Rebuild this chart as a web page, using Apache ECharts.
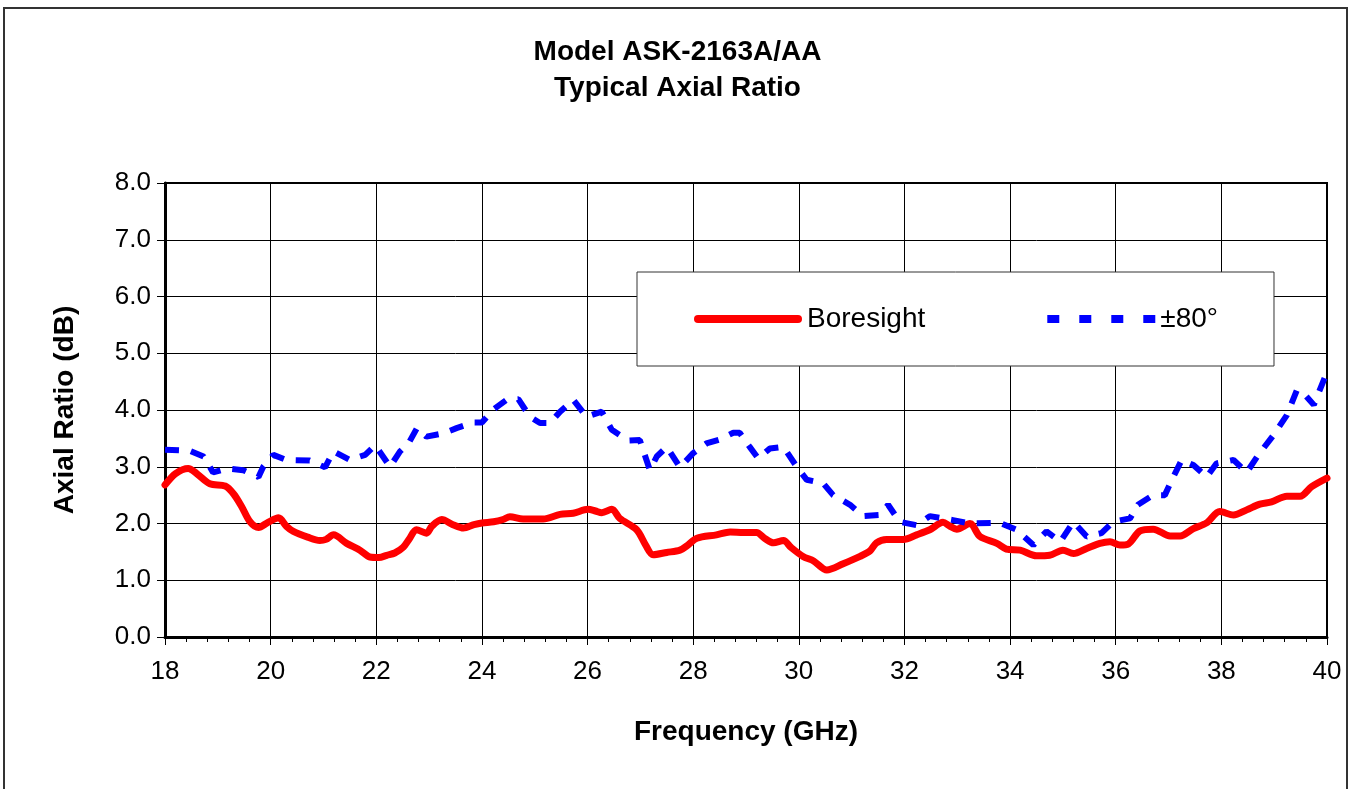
<!DOCTYPE html>
<html>
<head>
<meta charset="utf-8">
<script src="https://cdn.jsdelivr.net/npm/echarts@6/dist/echarts.min.js"></script>
<style>
html,body{margin:0;padding:0;background:#fff;}
#chart{width:1355px;height:789px;}
</style>
</head>
<body>
<div id="chart"></div>
<script>
// ---- Data ----
const titleLines = ["Model ASK-2163A/AA", "Typical Axial Ratio"];
const xAxisTitle = "Frequency (GHz)";
const yAxisTitle = "Axial Ratio (dB)";
const seriesNames = ["Boresight", "±80°"];

const boresightFreq = [18.0, 18.2, 18.44, 18.6, 18.85, 19.14, 19.3, 19.45, 19.61, 19.77, 19.95, 20.15, 20.3, 20.43, 20.7, 20.93, 21.05, 21.19, 21.44, 21.69, 21.88, 22.05, 22.2, 22.35, 22.51, 22.62, 22.76, 22.95, 23.05, 23.24, 23.45, 23.65, 23.85, 24.0, 24.22, 24.4, 24.53, 24.78, 25.16, 25.48, 25.73, 26.01, 26.15, 26.27, 26.46, 26.61, 26.93, 27.1, 27.24, 27.5, 27.75, 27.9, 28.07, 28.44, 28.7, 28.95, 29.2, 29.35, 29.52, 29.71, 29.85, 30.08, 30.28, 30.53, 30.84, 31.16, 31.35, 31.47, 31.66, 31.98, 32.23, 32.48, 32.73, 32.85, 32.99, 33.24, 33.43, 33.75, 33.93, 34.19, 34.5, 34.75, 35.0, 35.2, 35.45, 35.7, 35.89, 36.08, 36.24, 36.46, 36.71, 37.03, 37.22, 37.47, 37.72, 37.97, 38.23, 38.48, 38.73, 38.95, 39.24, 39.49, 39.71, 40.0];
const boresightAR = [2.68, 2.88, 2.97, 2.88, 2.70, 2.66, 2.52, 2.30, 2.03, 1.93, 2.02, 2.10, 1.95, 1.86, 1.76, 1.70, 1.72, 1.80, 1.65, 1.53, 1.41, 1.40, 1.44, 1.48, 1.58, 1.72, 1.89, 1.83, 1.95, 2.07, 1.98, 1.92, 1.98, 2.01, 2.03, 2.07, 2.12, 2.08, 2.08, 2.16, 2.18, 2.25, 2.22, 2.19, 2.25, 2.09, 1.89, 1.62, 1.45, 1.49, 1.53, 1.62, 1.74, 1.80, 1.85, 1.84, 1.84, 1.74, 1.66, 1.70, 1.58, 1.42, 1.34, 1.18, 1.29, 1.42, 1.52, 1.66, 1.72, 1.72, 1.80, 1.89, 2.02, 1.96, 1.90, 2.00, 1.77, 1.65, 1.55, 1.53, 1.43, 1.44, 1.53, 1.47, 1.56, 1.65, 1.68, 1.62, 1.64, 1.87, 1.90, 1.78, 1.78, 1.91, 2.01, 2.21, 2.15, 2.24, 2.34, 2.38, 2.48, 2.48, 2.65, 2.80];

const plus80Freq = [18.0, 18.47, 18.73, 18.91, 19.17, 19.48, 19.77, 19.86, 20.05, 20.3, 20.74, 21.03, 21.19, 21.5, 21.79, 21.98, 22.26, 22.45, 22.61, 22.77, 22.95, 23.27, 23.52, 23.84, 24.0, 24.22, 24.47, 24.69, 24.91, 25.1, 25.29, 25.48, 25.73, 25.98, 26.27, 26.46, 26.77, 26.99, 27.18, 27.31, 27.5, 27.75, 28.0, 28.25, 28.5, 28.76, 28.88, 29.07, 29.23, 29.45, 29.71, 29.96, 30.15, 30.46, 30.65, 30.97, 31.22, 31.54, 31.69, 31.91, 32.23, 32.48, 32.92, 33.24, 33.81, 34.12, 34.44, 34.69, 34.95, 35.2, 35.45, 35.73, 35.95, 36.27, 36.42, 36.71, 36.93, 37.09, 37.25, 37.47, 37.72, 37.91, 38.23, 38.48, 38.7, 38.99, 39.24, 39.43, 39.59, 39.75, 39.98];
const plus80AR = [3.30, 3.28, 3.18, 2.90, 2.97, 2.94, 2.82, 3.00, 3.21, 3.12, 3.11, 2.99, 3.27, 3.12, 3.21, 3.38, 3.00, 3.27, 3.41, 3.68, 3.53, 3.59, 3.68, 3.78, 3.78, 4.01, 4.18, 4.19, 3.88, 3.77, 3.77, 3.97, 4.18, 3.88, 3.97, 3.65, 3.46, 3.47, 2.94, 3.18, 3.35, 2.99, 3.24, 3.41, 3.48, 3.60, 3.60, 3.35, 3.15, 3.32, 3.35, 3.00, 2.77, 2.71, 2.50, 2.33, 2.13, 2.15, 2.33, 2.03, 1.97, 2.13, 2.06, 2.00, 2.01, 1.89, 1.62, 1.86, 1.68, 2.03, 1.77, 1.83, 2.03, 2.09, 2.33, 2.50, 2.50, 2.82, 3.12, 3.03, 2.82, 3.06, 3.12, 2.90, 3.21, 3.56, 3.91, 4.35, 4.26, 4.09, 4.62];

const xMin = 18, xMax = 40, xStep = 2;
const yMin = 0, yMax = 8, yStep = 1;

// ---- Chart ----
const FONT = "'Liberation Sans', Arial, sans-serif";
const chart = echarts.init(document.getElementById('chart'), null, {renderer: 'canvas'});

const zip = (xs, ys) => xs.map((x, i) => [x, ys[i]]);

// legend icons (solid bar with round ends / four dashes), in a 108x8 box
const solidIcon = 'path://M4,0 L104,0 A4,4 0 0 1 104,8 L4,8 A4,4 0 0 1 4,0 Z';
const dashIcon = 'path://M0,0 L12,0 L12,8 L0,8 Z M32,0 L44,0 L44,8 L32,8 Z M64,0 L76,0 L76,8 L64,8 Z M96,0 L108,0 L108,8 L96,8 Z';

chart.setOption({
  backgroundColor: '#ffffff',
  animation: false,
  graphic: [{
    type: 'rect',
    shape: {x: 4, y: 8, width: 1343, height: 800},
    style: {fill: 'none', stroke: '#333', lineWidth: 2},
    silent: true,
    z: -10
  }],
  title: {
    text: titleLines.join('\n'),
    left: 'center',
    top: 29,
    textStyle: {fontFamily: FONT, fontWeight: 'bold', fontSize: 28, lineHeight: 36, color: '#000'}
  },
  legend: {
    left: 637,
    top: 272,
    orient: 'horizontal',
    backgroundColor: '#fff',
    borderColor: '#333',
    borderWidth: 1,
    padding: [29, 56, 29, 57],
    itemWidth: 108,
    itemHeight: 8,
    itemGap: 122,
    textStyle: {fontFamily: FONT, fontSize: 28, color: '#000', lineHeight: 36},
    data: [
      {name: seriesNames[0], icon: solidIcon},
      {name: seriesNames[1], icon: dashIcon}
    ]
  },
  grid: {left: 165, right: 28, top: 183, bottom: 152, show: true, borderColor: '#000', borderWidth: 2, backgroundColor: 'transparent'},
  xAxis: {
    type: 'value',
    min: xMin, max: xMax, interval: xStep,
    name: xAxisTitle,
    nameLocation: 'middle',
    nameGap: 81,
    nameTextStyle: {fontFamily: FONT, fontWeight: 'bold', fontSize: 28, color: '#000'},
    axisLine: {show: true, onZero: false, lineStyle: {color: '#000', width: 3}},
    axisTick: {show: true, inside: false, length: 8, lineStyle: {color: '#000', width: 1}},
    minorTick: {show: true, splitNumber: 5, length: 5, lineStyle: {color: '#000', width: 1}},
    splitLine: {show: true, lineStyle: {color: '#000', width: 1}},
    axisLabel: {fontFamily: FONT, fontSize: 26, color: '#000', margin: 22}
  },
  yAxis: {
    type: 'value',
    min: yMin, max: yMax, interval: yStep,
    name: yAxisTitle,
    nameLocation: 'middle',
    nameGap: 86,
    nameRotate: 90,
    nameTextStyle: {fontFamily: FONT, fontWeight: 'bold', fontSize: 28, color: '#000'},
    axisLine: {show: true, lineStyle: {color: '#000', width: 3}},
    axisTick: {show: true, inside: false, length: 8, lineStyle: {color: '#000', width: 1}},
    splitLine: {show: true, lineStyle: {color: '#000', width: 1}},
    axisLabel: {fontFamily: FONT, fontSize: 26, color: '#000', margin: 14, formatter: v => v.toFixed(1)}
  },
  series: [
    {
      name: seriesNames[0],
      type: 'line',
      data: zip(boresightFreq, boresightAR),
      symbol: 'none',
      smooth: 0.3,
      lineStyle: {color: '#ff0000', width: 7, cap: 'round', join: 'round'},
      itemStyle: {color: '#ff0000'},
      z: 3
    },
    {
      name: seriesNames[1],
      type: 'line',
      data: zip(plus80Freq, plus80AR),
      symbol: 'none',
      lineStyle: {color: '#0000ff', width: 6, type: [14, 12]},
      itemStyle: {color: '#0000ff'},
      z: 4
    }
  ]
});
</script>
</body>
</html>
